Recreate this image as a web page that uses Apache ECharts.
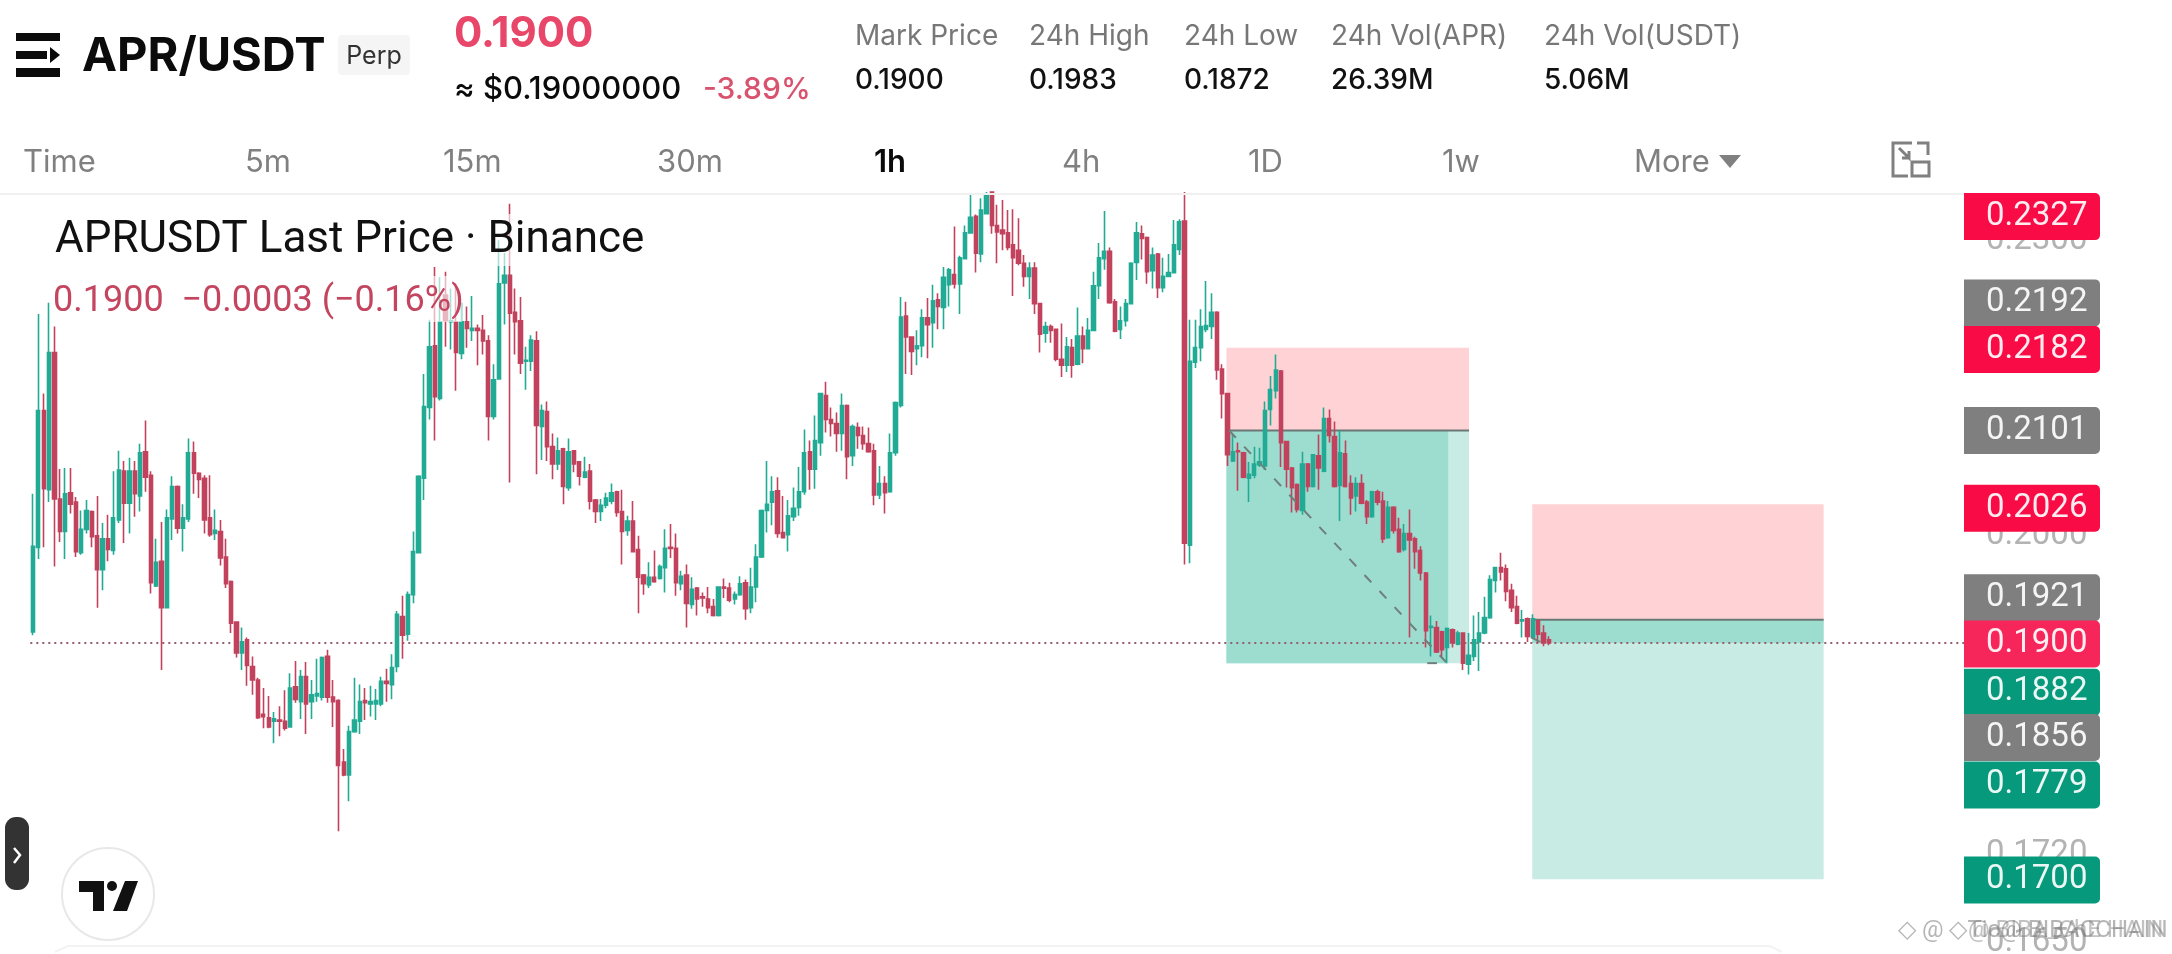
<!DOCTYPE html>
<html>
<head>
<meta charset="utf-8">
<style>html,body{margin:0;padding:0;background:#fff;overflow:hidden}#c{width:2172px;height:954px}</style>
<script src="https://cdn.jsdelivr.net/npm/echarts@6/dist/echarts.min.js"></script>
</head>
<body>
<div id="c"></div>
<script>
// [open, close, low, high]
const candles = [
[.1910,.1989,.1907,.2039],[.1988,.2121,.1977,.2220],[.2121,.2044,.1988,.2138],[.2043,.2180,.2031,.2232],[.2180,.2034,.1970,.2207],
[.2034,.2003,.1993,.2063],[.2003,.2039,.1977,.2064],[.2040,.2029,.2020,.2064],[.2031,.1984,.1979,.2036],[.1983,.2005,.1981,.2023],
[.2005,.2023,.2001,.2033],[.2022,.1998,.1988,.2023],[.1999,.1967,.1932,.2037],[.1967,.1996,.1948,.2011],[.1996,.1986,.1975,.2019],
[.1985,.2016,.1981,.2061],[.2014,.2062,.2011,.2081],[.2061,.2030,.1992,.2071],[.2030,.2061,.2001,.2074],[.2061,.2039,.2017,.2071],
[.2037,.2079,.2022,.2088],[.2080,.2055,.2041,.2111],[.2057,.1955,.1945,.2061],[.1952,.1974,.1951,.1996],[.1975,.1932,.1876,.2012],
[.1932,.2016,.1932,.2024],[.2015,.2046,.1995,.2056],[.2046,.2006,.2001,.2047],[.2006,.2016,.1984,.2029],[.2015,.2079,.2012,.2093],
[.2079,.2059,.2039,.2090],[.2059,.2053,.2035,.2060],[.2054,.2014,.2001,.2057],[.2016,.2000,.1998,.2057],[.2001,.2004,.1995,.2024],
[.2003,.1978,.1971,.2014],[.1979,.1954,.1950,.1996],[.1956,.1918,.1909,.1957],[.1919,.1891,.1887,.1919],[.1891,.1901,.1876,.1914],
[.1903,.1880,.1862,.1905],[.1879,.1867,.1854,.1888],[.1867,.1834,.1833,.1869],[.1837,.1835,.1825,.1860],[.1834,.1826,.1825,.1853],
[.1831,.1833,.1812,.1839],[.1832,.1831,.1818,.1844],[.1831,.1825,.1823,.1858],[.1826,.1860,.1826,.1873],[.1861,.1850,.1847,.1884],
[.1848,.1870,.1833,.1876],[.1870,.1846,.1820,.1883],[.1848,.1854,.1833,.1867],[.1853,.1855,.1848,.1886],[.1852,.1887,.1849,.1888],
[.1888,.1852,.1847,.1894],[.1852,.1848,.1826,.1867],[.1849,.1793,.1738,.1850],[.1796,.1785,.1784,.1807],[.1785,.1822,.1763,.1827],
[.1822,.1832,.1821,.1869],[.1831,.1848,.1820,.1863],[.1849,.1847,.1832,.1860],[.1846,.1848,.1835,.1862],[.1846,.1849,.1832,.1859],
[.1846,.1866,.1844,.1870],[.1866,.1864,.1848,.1877],[.1863,.1878,.1850,.1890],[.1879,.1926,.1874,.1929],[.1924,.1907,.1886,.1943],
[.1908,.1944,.1902,.1947],[.1944,.1984,.1936,.2003],[.1983,.2056,.1983,.2057],[.2054,.2125,.2033,.2158],[.2124,.2186,.2112,.2214],
[.2187,.2135,.2091,.2270],[.2133,.2212,.2131,.2259],[.2240,.2213,.2186,.2265],[.2212,.2213,.2183,.2247],[.2212,.2180,.2141,.2253],
[.2179,.2212,.2173,.2232],[.2212,.2205,.2185,.2228],[.2203,.2205,.2192,.2239],[.2205,.2203,.2167,.2209],[.2203,.2192,.2178,.2219],
[.2192,.2115,.2091,.2198],[.2115,.2152,.2112,.2168],[.2153,.2252,.2152,.2299],[.2253,.2261,.2209,.2285],[.2261,.2221,.2050,.2339],
[.2222,.2212,.2178,.2247],[.2213,.2169,.2158,.2238],[.2171,.2172,.2142,.2186],[.2171,.2193,.2161,.2198],[.2192,.2106,.2058,.2202],
[.2105,.2121,.2072,.2127],[.2120,.2085,.2071,.2130],[.2085,.2068,.2053,.2098],[.2068,.2081,.2062,.2094],[.2083,.2046,.2029,.2084],
[.2045,.2080,.2042,.2093],[.2081,.2068,.2060,.2081],[.2070,.2056,.2047,.2070],[.2055,.2060,.2054,.2075],[.2061,.2032,.2024,.2068],
[.2033,.2022,.2011,.2034],[.2022,.2028,.2013,.2034],[.2028,.2035,.2025,.2040],[.2032,.2040,.2029,.2049],[.2041,.2021,.2017,.2042],
[.2022,.2003,.1972,.2043],[.2004,.2013,.1999,.2018],[.2013,.1984,.1984,.2032],[.1986,.1960,.1927,.1999],[.1962,.1954,.1944,.1963],
[.1953,.1960,.1950,.1974],[.1960,.1956,.1955,.1985],[.1959,.1970,.1958,.1972],[.1969,.1987,.1946,.2005],[.1988,.1987,.1978,.2010],
[.1987,.1955,.1943,.2001],[.1954,.1961,.1948,.1966],[.1962,.1936,.1914,.1972],[.1935,.1949,.1931,.1960],[.1950,.1940,.1925,.1951],
[.1942,.1941,.1933,.1946],[.1940,.1932,.1927,.1951],[.1933,.1925,.1924,.1940],[.1925,.1951,.1924,.1951],[.1951,.1950,.1941,.1959],
[.1950,.1939,.1937,.1955],[.1940,.1944,.1935,.1947],[.1944,.1954,.1943,.1961],[.1955,.1931,.1921,.1958],[.1932,.1951,.1927,.1969],
[.1951,.1979,.1937,.1991],[.1979,.2023,.1978,.2024],[.2023,.2029,.2002,.2071],[.2031,.2041,.2009,.2056],[.2042,.2001,.1997,.2055],
[.2002,.1997,.1997,.2037],[.2000,.2018,.1984,.2033],[.2017,.2025,.2013,.2045],[.2026,.2041,.2018,.2065],[.2041,.2079,.2038,.2102],
[.2080,.2063,.2043,.2091],[.2063,.2091,.2044,.2116],[.2089,.2138,.2076,.2139],[.2136,.2112,.2099,.2150],[.2112,.2108,.2095,.2124],
[.2108,.2098,.2080,.2119],[.2098,.2126,.2081,.2138],[.2126,.2075,.2053,.2127],[.2076,.2105,.2066,.2107],[.2104,.2096,.2083,.2109],
[.2096,.2088,.2082,.2105],[.2088,.2080,.2079,.2104],[.2081,.2038,.2028,.2088],[.2038,.2049,.2034,.2066],[.2049,.2040,.2020,.2056],
[.2041,.2079,.2040,.2098],[.2079,.2129,.2076,.2130],[.2126,.2217,.2124,.2238],[.2218,.2196,.2158,.2233],[.2196,.2181,.2157,.2196],
[.2184,.2187,.2167,.2203],[.2187,.2216,.2175,.2225],[.2216,.2209,.2174,.2237],[.2211,.2234,.2185,.2251],[.2235,.2228,.2204,.2242],
[.2227,.2259,.2204,.2270],[.2251,.2267,.2228,.2269],[.2262,.2252,.2247,.2314],[.2252,.2280,.2220,.2282],[.2279,.2307,.2278,.2315],
[.2307,.2324,.2306,.2350],[.2325,.2285,.2264,.2327],[.2284,.2332,.2275,.2345],[.2328,.2350,.2327,.2352],[.2352,.2315,.2306,.2352],
[.2315,.2308,.2274,.2338],[.2310,.2306,.2288,.2343],[.2307,.2291,.2288,.2332],[.2294,.2280,.2239,.2333],[.2288,.2274,.2272,.2323],
[.2274,.2260,.2249,.2283],[.2260,.2269,.2236,.2275],[.2269,.2231,.2220,.2275],[.2231,.2199,.2180,.2231],[.2200,.2207,.2190,.2212],
[.2207,.2203,.2190,.2209],[.2204,.2173,.2171,.2205],[.2173,.2167,.2155,.2210],[.2167,.2186,.2160,.2196],[.2185,.2167,.2154,.2194],
[.2168,.2197,.2167,.2227],[.2197,.2184,.2169,.2207],[.2184,.2203,.2183,.2216],[.2203,.2250,.2202,.2265],[.2250,.2280,.2236,.2296],
[.2279,.2287,.2267,.2331],[.2287,.2232,.2231,.2291],[.2233,.2202,.2201,.2236],[.2204,.2213,.2194,.2228],[.2213,.2231,.2207,.2236],
[.2231,.2274,.2230,.2275],[.2275,.2307,.2256,.2319],[.2306,.2301,.2278,.2315],[.2302,.2265,.2252,.2303],[.2266,.2283,.2247,.2291],
[.2284,.2248,.2237,.2285],[.2248,.2260,.2243,.2280],[.2260,.2264,.2259,.2284],[.2264,.2294,.2263,.2321],[.2289,.2319,.2283,.2322],
[.2320,.1992,.1972,.2352],[.1990,.2171,.1973,.2214],[.2170,.2185,.2164,.2214],[.2185,.2207,.2171,.2225],[.2204,.2208,.2201,.2255],
[.2207,.2222,.2194,.2242],[.2222,.2162,.2152,.2223],[.2163,.2138,.2113,.2168],[.2138,.2077,.2066,.2139],[.2071,.2080,.2070,.2098],
[.2081,.2080,.2042,.2089],[.2079,.2055,.2054,.2080],[.2054,.2058,.2031,.2070],[.2057,.2068,.2054,.2085],[.2067,.2070,.2065,.2084],
[.2066,.2121,.2062,.2130],[.2122,.2142,.2106,.2156],[.2141,.2162,.2133,.2178],[.2161,.2089,.2065,.2162],[.2090,.2063,.2045,.2090],
[.2064,.2045,.2021,.2065],[.2048,.2024,.2021,.2049],[.2023,.2068,.2019,.2080],[.2068,.2046,.2041,.2069],[.2046,.2077,.2045,.2077],
[.2076,.2064,.2043,.2097],[.2061,.2113,.2060,.2124],[.2113,.2096,.2089,.2122],[.2095,.2046,.2045,.2110],[.2047,.2079,.2013,.2101],
[.2078,.2046,.2045,.2091],[.2049,.2035,.2019,.2057],[.2037,.2049,.2022,.2055],[.2049,.2030,.2029,.2058],[.2031,.2017,.2010,.2033],
[.2017,.2041,.2016,.2042],[.2041,.2031,.2028,.2043],[.2032,.1996,.1992,.2041],[.1997,.2026,.1996,.2032],[.2026,.2004,.2001,.2027],
[.2005,.1984,.1983,.2016],[.1986,.2001,.1984,.2010],[.2001,.1995,.1905,.2024],[.1996,.1984,.1968,.1998],[.1985,.1964,.1957,.1989],
[.1964,.1911,.1896,.1965],[.1914,.1915,.1888,.1925],[.1914,.1892,.1891,.1920],[.1910,.1894,.1887,.1911],[.1896,.1913,.1882,.1914],
[.1912,.1900,.1896,.1913],[.1899,.1909,.1898,.1911],[.1909,.1882,.1876,.1909],[.1881,.1889,.1872,.1909],[.1888,.1903,.1884,.1925],
[.1901,.1909,.1875,.1928],[.1909,.1923,.1908,.1942],[.1923,.1958,.1922,.1962],[.1957,.1969,.1946,.1969],[.1969,.1965,.1957,.1983],
[.1968,.1947,.1938,.1972],[.1948,.1932,.1928,.1954],[.1933,.1918,.1917,.1943],[.1920,.1921,.1905,.1930],[.1922,.1906,.1901,.1923],
[.1905,.1922,.1905,.1926],[.1920,.1908,.1900,.1921],[.1909,.1900,.1897,.1916],[.1903,.1900,.1898,.1906]
];
const barCount = 361; // candle slots in the visible time range, including the empty right-hand margin
const barIndex = Array.from({length: barCount}, (_, i) => i);
const lastPrice = 0.19;

const priceTicks = [0.23, 0.2, 0.172, 0.165];
const tagValues = [0.2327, 0.2192, 0.2182, 0.2101, 0.2026, 0.1921, 0.19, 0.1882, 0.1856, 0.1779, 0.17];
const tagKinds  = ['r','g','r','g','r','g','l','t','g','t','t'];
const tagShift  = [2,-38,-1,0,1,-22,1,29,45,3,2];

// risk/reward position drawings
const posStart  = [222.8, 279.9];
const posEnd    = [268.1, 334.3];
const posActive = [264.2, 334.3];
const posEntry  = [0.2101, 0.1921];
const posStop   = [0.2185, 0.2029];
const posTarget = [0.1882, 0.1699];
const posClose  = [0.1882, 0.19];
const tradePaths = [
  [[223.3, 0.2101], [263.8, 0.1883]],
  [[279.7, 0.1905], [282.6, 0.1898]],
  [[260.3, 0.1882], [262.1, 0.1882]]
];

const statLabels = ['Mark Price','24h High','24h Low','24h Vol(APR)','24h Vol(USDT)'];
const statValues = ['0.1900','0.1983','0.1872','26.39M','5.06M'];
const statX = [855,1029,1184,1331,1544];
const tabLabels = ['Time','5m','15m','30m','1h','4h','1D','1w','More'];
const tabX = [23,245,443,657,874,1062,1248,1442,1634];

const GREEN='#22AB94', RED='#C2425D';
const tagColor={r:'#F90C45',g:'#7F7F7F',l:'#F7265A',t:'#06997C'};
const UI='Inter, "Noto Sans", sans-serif', RB='Roboto, sans-serif';

function T(text,x,y,size,fill,weight,family,align,z){
  return {type:'text',z:z||20,style:{text,x,y,fill,font:`${weight||400} ${size}px ${family||UI}`,textAlign:align||'left',textVerticalAlign:'middle'},silent:true};
}
function R(x,y,w,h,fill,r,z,op){
  return {type:'rect',z:z||20,shape:{x,y,width:w,height:h,r:r||0},style:{fill,opacity:op==null?1:op},silent:true};
}
function P(points,fill,z){ return {type:'polygon',z:z||20,shape:{points},style:{fill},silent:true}; }

const g=[];
// ticker icon
g.push(R(16,33,44,8,'#0b0b0b'),R(16,51,31,8,'#0b0b0b'),R(16,68,44,9,'#0b0b0b'),P([[50,47],[60,55],[50,63]],'#0b0b0b'));
g.push(T('APR/USDT',82,57,47,'#0b0b0b',700));
g.push(R(338,35,72,40,'#f5f5f5',4),T('Perp',374,56,25,'#333','400',UI,'center'));
g.push(T('0.1900',454,34,42,'#E8476A',700));
g.push(T('≈ $0.19000000',454,90,31,'#0b0b0b',500));
g.push(T('-3.89%',703,90,30,'#D9536F',500));
statLabels.forEach((s,i)=>{g.push(T(s,statX[i],37,28,'#777'));g.push(T(statValues[i],statX[i],81,28,'#111',500));});
tabLabels.forEach((s,i)=>{g.push(T(s,tabX[i],163,31,s==='1h'?'#0b0b0b':'#808080',s==='1h'?600:400));});
g.push(P([[1719,155],[1741,155],[1730,168]],'#808080'));
// layout icon
g.push({type:'polyline',z:20,shape:{points:[[1912,143],[1893,143],[1893,176],[1908,176]]},style:{stroke:'#808080',lineWidth:3,fill:null},silent:true});
g.push({type:'polyline',z:20,shape:{points:[[1917,143],[1928,143],[1928,155]]},style:{stroke:'#808080',lineWidth:3,fill:null},silent:true});
g.push({type:'rect',z:20,shape:{x:1912,y:162,width:17,height:14},style:{stroke:'#808080',lineWidth:3,fill:null},silent:true});
g.push({type:'polyline',z:20,shape:{points:[[1899,148],[1909,158],[1909,151],[1909,158],[1902,158]]},style:{stroke:'#808080',lineWidth:3,fill:null},silent:true});
g.push({type:'line',z:20,shape:{x1:0,y1:194,x2:1964,y2:194},style:{stroke:'#f0f0f0',lineWidth:2},silent:true});
// legend with translucent backing
g.push(R(50,214,596,52,'#fff',0,5,0.62),R(50,276,412,46,'#fff',0,5,0.62));
g.push(T('APRUSDT Last Price · Binance',55,241,44,'#111',400,RB,'left',6));
g.push(T('0.1900  −0.0003 (−0.16%)',53,302,36,'#C4455F',400,RB,'left',6));
// side button and logo
g.push(R(5,817,24,73,'#333',11));
g.push({type:'polyline',z:21,shape:{points:[[14,848],[20,855],[14,863]]},style:{stroke:'#fff',lineWidth:2.5,fill:null},silent:true});
g.push({type:'circle',z:20,shape:{cx:108,cy:894,r:46},style:{fill:'#fff',stroke:'#e8e8e8',lineWidth:2},silent:true});
g.push(P([[79,881],[104,881],[104,911],[93,911],[93,892],[79,892]],'#111',21));
g.push({type:'circle',z:21,shape:{cx:112,cy:886,r:5},style:{fill:'#111'},silent:true});
g.push(P([[125,881],[138,881],[127,911],[113,911]],'#111',21));
g.push({type:'polyline',z:20,shape:{points:[[55,952],[68,946],[1770,946],[1782,952]]},style:{stroke:'#f3f3f3',lineWidth:2,fill:null},silent:true});
// watermark (doubled in the source)
g.push(T('◇ @ ◇Tic@ BIBACCHAIN',1898,931,24,'rgba(120,120,120,.55)',400,RB,'left',30));
g.push(T('@ BIBA_ChE HAIN',1968,931,24,'rgba(120,120,120,.45)',400,RB,'left',30));

const chart=echarts.init(document.getElementById('c'),null,{renderer:'canvas'});
chart.setOption({
  animation:false,
  backgroundColor:'#fff',
  grid:{left:30.3,top:194,width:1933.7,height:760},
  xAxis:[
    {type:'category',data:barIndex,show:false},
    {type:'value',min:-0.5,max:barCount-0.5,show:false}
  ],
  yAxis:{type:'log',logBase:10,min:0.164,max:0.23498,show:false,scale:true},
  graphic:{elements:g},
  series:[
    {type:'custom',name:'positions',xAxisIndex:1,z:0,silent:true,clip:true,
     data:posStart.map((s,i)=>[s,posEntry[i],i]),
     encode:{x:0,y:1},
     renderItem(params,api){
       const i=api.value(2);
       const box=(x0,x1,a,b,fill)=>{const p=api.coord([x0,a]),q=api.coord([x1,b]);
         return {type:'rect',shape:{x:p[0],y:Math.min(p[1],q[1]),width:q[0]-p[0],height:Math.abs(q[1]-p[1])},style:{fill}};};
       const e0=api.coord([posStart[i],posEntry[i]]),e1=api.coord([posEnd[i],posEntry[i]]);
       return {type:'group',children:[
         box(posStart[i],posEnd[i],posEntry[i],posStop[i],'#FFD3D6'),
         box(posStart[i],posEnd[i],posEntry[i],posTarget[i],'#C8ECE4'),
         box(posStart[i],posActive[i],posEntry[i],posClose[i],'#9DDDD0'),
         {type:'line',shape:{x1:e0[0],y1:e0[1],x2:e1[0],y2:e1[1]},style:{stroke:'#6b7775',lineWidth:2}}
       ]};
     }},
    {type:'line',name:'last',xAxisIndex:1,z:1,silent:true,showSymbol:false,
     data:[[-0.5,lastPrice],[barCount-0.5,lastPrice]],
     lineStyle:{color:'#95606C',width:2,type:[2,4]}},
    {type:'candlestick',name:'APRUSDT',xAxisIndex:0,z:2,barWidth:3.8,silent:true,
     data:candles,
     itemStyle:{color:GREEN,color0:RED,borderColor:GREEN,borderColor0:RED,borderWidth:1.6}},
    ...tradePaths.map(path=>({type:'line',xAxisIndex:1,z:3,silent:true,showSymbol:false,data:path,
     lineStyle:{color:'#6f7f7c',width:2,type:[10,12]}})),
    {type:'custom',name:'priceScale',xAxisIndex:1,z:4,silent:true,clip:false,
     data:priceTicks.map(v=>[barCount-1,v]),encode:{x:0,y:1},
     renderItem(params,api){
       const y=api.coord([0,api.value(1)])[1]+1.5;
       return {type:'text',style:{text:api.value(1).toFixed(4),x:1986,y,fill:'#B3B3B3',font:`400 33px ${RB}`,textVerticalAlign:'middle'}};
     }},
    {type:'custom',name:'tags',xAxisIndex:1,z:5,silent:true,clip:false,
     data:tagValues.map((v,i)=>[barCount-1,v,i]),encode:{x:0,y:1},
     renderItem(params,api){
       const i=api.value(2);
       const y=api.coord([0,api.value(1)])[1]+tagShift[i];
       return {type:'group',children:[
         {type:'rect',shape:{x:1964,y:y-23.5,width:136,height:47,r:[0,5,5,0]},style:{fill:tagColor[tagKinds[i]]}},
         {type:'text',style:{text:api.value(1).toFixed(4),x:1986,y,fill:'#fff',font:`400 33px ${RB}`,textVerticalAlign:'middle',opacity:.92}}
       ]};
     }}
  ]
});
</script>
</body>
</html>
